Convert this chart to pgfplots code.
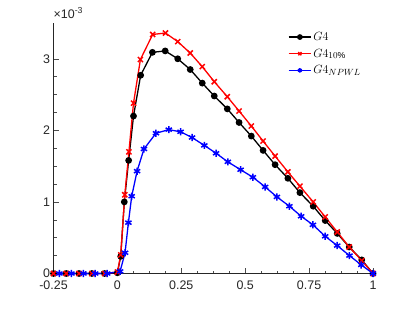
\documentclass[border=0pt]{standalone}
\usepackage{fontspec}
\setmainfont{Liberation Sans}
\usepackage{pgfplots}
\pgfplotsset{compat=1.18}
\pgfplotstableread{
x y
-0.25 0
-0.20 0
-0.15 0
-0.10 0
-0.05 0
0.000 0.01
0.013 0.24
0.027 1.00
0.044 1.58
0.063 2.20
0.091 2.77
0.137 3.09
0.187 3.11
0.236 3.00
0.285 2.85
0.332 2.66
0.379 2.48
0.430 2.30
0.476 2.11
0.524 1.92
0.570 1.72
0.617 1.52
0.667 1.33
0.714 1.13
0.766 0.94
0.813 0.74
0.860 0.56
0.907 0.37
0.956 0.19
1.000 0
}\gfour
\pgfplotstableread{
x y
-0.25 0
-0.20 0
-0.15 0
-0.10 0
-0.05 0
0.000 0.02
0.013 0.26
0.029 1.10
0.045 1.70
0.063 2.38
0.090 2.99
0.138 3.34
0.188 3.36
0.236 3.24
0.285 3.08
0.332 2.89
0.379 2.68
0.430 2.47
0.476 2.27
0.524 2.06
0.570 1.85
0.617 1.64
0.667 1.42
0.714 1.22
0.766 1.00
0.813 0.79
0.860 0.58
0.907 0.37
0.956 0.18
1.000 0
}\gten
\pgfplotstableread{
x y
-0.227 0
-0.180 0
-0.133 0
-0.087 0
-0.040 0
0.0106 0.03
0.030 0.29
0.043 0.71
0.056 1.08
0.077 1.43
0.104 1.74
0.151 1.96
0.201 2.01
0.247 1.98
0.292 1.90
0.340 1.79
0.386 1.68
0.432 1.56
0.482 1.45
0.530 1.345
0.578 1.21
0.624 1.07
0.673 0.94
0.719 0.80
0.765 0.68
0.813 0.52
0.860 0.39
0.908 0.25
0.954 0.12
1.000 0
}\gnpwl
\begin{document}
\begin{tikzpicture}
\useasboundingbox (-53.5bp,-35.5bp) rectangle (358.5bp,273.5bp);
\begin{axis}[name=ax, scale only axis, width=319.5bp, height=250.5bp,
 anchor=south west, at={(0,0)},
 xmin=-0.25, xmax=1, ymin=0, ymax=3.5,
 axis x line*=bottom, axis y line*=left,
 axis line style={black!85, line width=0.6pt, -},
 tick align=inside,
 xtick={-0.25,0,0.25,0.5,0.75,1},
 xticklabels={-0.25,0,0.25,0.5,0.75,1},
 ytick={0,1,2,3}, yticklabels={0,1,2,3},
 minor x tick num=3, minor y tick num=3,
 major tick length=5.5bp, minor tick length=3bp,
 tick style={black!70, line width=0.5pt},
 ticklabel style={font=\fontsize{12.5}{14}\selectfont, text=black!85},
 xticklabel style={yshift=-3.5bp},
 clip=false,
 legend style={draw=none, fill=none, at={(0.733,0.978)}, anchor=north west,
   font=\fontsize{12.5}{14}\selectfont, row sep=4bp, inner xsep=0pt, inner ysep=2bp,
   nodes={inner sep=1.5bp}},
 legend cell align=left,
 legend image code/.code={\draw[#1] (0cm,0cm) -- (0.8cm,0cm); \draw[#1, mark size=2.2bp] plot coordinates {(0.4cm,0cm)};},
]
\addplot[black, line width=1.3bp, mark=*, mark size=2.7bp] table {\gfour};
\addlegendentry{$G4$}
\addplot[red, line width=1.3bp, mark=x, mark size=3.6bp, mark options={line width=1.5bp}] table {\gten};
\addlegendentry{$G4_{10\%}$}
\addplot[blue, line width=1.3bp, mark=asterisk, mark size=3.6bp, mark options={line width=1.5bp}] table {\gnpwl};
\addlegendentry{$G4_{NPWL}$}
\node[anchor=base west, font=\fontsize{12.5}{14}\selectfont, text=black!85, inner sep=0pt] at ([yshift=5bp]rel axis cs:0,1) {×10\textsuperscript{-3}};
\end{axis}
\end{tikzpicture}
\end{document}
